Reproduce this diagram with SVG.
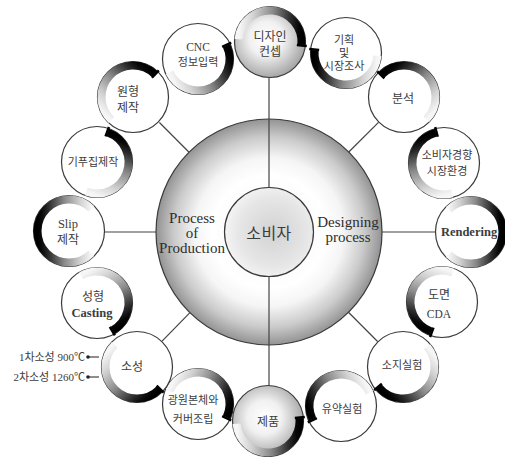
<svg xmlns="http://www.w3.org/2000/svg" width="505" height="457" viewBox="0 0 505 457">
<defs>
<linearGradient id="gLD" x1="0" y1="0" x2="1" y2="0">
<stop offset="0" stop-color="#f6f6f6"/><stop offset="0.2" stop-color="#d2d2d2"/><stop offset="0.5" stop-color="#8a8a8a"/><stop offset="0.8" stop-color="#2a2a2a"/><stop offset="0.93" stop-color="#080808"/><stop offset="1" stop-color="#000"/>
</linearGradient>
<linearGradient id="gDL" x1="1" y1="0" x2="0" y2="0">
<stop offset="0" stop-color="#f6f6f6"/><stop offset="0.2" stop-color="#d2d2d2"/><stop offset="0.5" stop-color="#8a8a8a"/><stop offset="0.8" stop-color="#2a2a2a"/><stop offset="0.93" stop-color="#080808"/><stop offset="1" stop-color="#000"/>
</linearGradient>
<radialGradient id="gBig" cx="0.5" cy="0.5" r="0.5">
<stop offset="0" stop-color="#f4f4f4"/><stop offset="0.5" stop-color="#ffffff"/><stop offset="0.66" stop-color="#f5f5f5"/><stop offset="0.84" stop-color="#cbcbcb"/><stop offset="1" stop-color="#939393"/>
</radialGradient>
<radialGradient id="gIn" cx="0.55" cy="0.5" r="0.55">
<stop offset="0" stop-color="#d2d2d2"/><stop offset="0.7" stop-color="#e6e6e6"/><stop offset="1" stop-color="#f4f4f4"/>
</radialGradient>
<radialGradient id="gNode" cx="0.45" cy="0.45" r="0.6">
<stop offset="0" stop-color="#ffffff"/><stop offset="0.4" stop-color="#f1f1f1"/><stop offset="1" stop-color="#9c9c9c"/>
</radialGradient>
</defs>
<style>
.nd{fill:#fff;stroke:#3a3a3a;stroke-width:1.2}
.ng{fill:url(#gNode);stroke:#3a3a3a;stroke-width:1.2}
.arc{fill:none;stroke-width:8}
.ld{stroke:url(#gLD)}
.dl{stroke:url(#gDL)}
.tk{fill:#000}
.con{stroke:#444;stroke-width:1.2;fill:none}
text{font-family:"Liberation Serif","Noto Sans CJK KR",serif;text-anchor:middle;dominant-baseline:central;fill:#3c3c3c}
.k{font-size:12px}
.k5{font-size:11px}
.e{font-size:11.5px}
.er{font-size:12.5px}
.eb{font-size:12.5px;font-weight:bold}
.c{font-size:15px;fill:#2e2e2e}
.side{font-size:11px;text-anchor:end}
</style>

<g id="outer-circle">
<circle cx="269" cy="232" r="113" fill="url(#gBig)" stroke="#3a3a3a" stroke-width="1.2"/>
<text class="c" x="192" y="218">Process</text>
<text class="c" x="192" y="233">of</text>
<text class="c" x="192" y="248">Production</text>
<text class="c" x="348" y="222">Designing</text>
<text class="c" x="348" y="237">process</text>
</g>

<g id="connectors">
<line class="con" x1="269" y1="78" x2="269" y2="188"/>
<line class="con" x1="269" y1="276" x2="269" y2="386"/>
<line class="con" x1="105" y1="232" x2="156" y2="232"/>
<line class="con" x1="382" y1="232" x2="436" y2="232"/>
<line class="con" x1="378.5" y1="122.4" x2="348.5" y2="152.2"/>
<line class="con" x1="159.4" y1="122.5" x2="188.8" y2="152"/>
<line class="con" x1="377.6" y1="341.5" x2="348.2" y2="312"/>
<line class="con" x1="162.1" y1="341.2" x2="189.7" y2="312.9"/>
<line class="con" x1="89" y1="357" x2="99" y2="357"/>
<line class="con" x1="89" y1="377" x2="99" y2="377"/>
<circle cx="88" cy="357" r="1.8" fill="#222"/>
<circle cx="88" cy="377" r="1.8" fill="#222"/>
</g>

<g id="consumer">
<circle cx="269" cy="232" r="44.5" fill="url(#gIn)" stroke="#3a3a3a" stroke-width="1.2"/>
<text x="269" y="233" style="font-size:16px;letter-spacing:0.5px">소비자</text>
</g>

<g id="n-design-concept" transform="translate(270,42)">
<circle class="ng" r="35.5"/>
<g transform="rotate(5)"><path class="arc ld" d="M-31.5 0A31.5 31.5 0 0 1 31.5 0"/><rect class="tk" x="27" y="-0.5" width="10" height="2.5"/></g>
<text class="k" x="0" y="-5">디자인</text>
<text class="k" x="0" y="10">컨셉</text>
</g>

<g id="n-planning" transform="translate(346,53)">
<circle class="nd" r="35.5"/>
<g transform="rotate(-175)"><path class="arc ld" d="M-31.5 0A31.5 31.5 0 0 1 31.5 0"/><rect class="tk" x="27" y="-0.5" width="10" height="2.5"/></g>
<text class="k5" x="-2" y="-13">기획</text>
<text class="k5" x="-2" y="0">및</text>
<text class="k5" x="-2" y="13">시장조사</text>
</g>

<g id="n-analysis" transform="translate(404,97)">
<circle class="nd" r="35.5"/>
<g transform="rotate(45)"><path class="arc dl" d="M-31.5 0A31.5 31.5 0 0 1 31.5 0"/><rect class="tk" x="-37" y="-0.5" width="10" height="2.5"/></g>
<text class="k" x="-1" y="2">분석</text>
</g>

<g id="n-consumer-trend" transform="translate(444,163)">
<circle class="nd" r="35.5"/>
<g transform="rotate(-105)"><path class="arc ld" d="M-31.5 0A31.5 31.5 0 0 1 31.5 0"/><rect class="tk" x="27" y="-0.5" width="10" height="2.5"/></g>
<text class="k5" x="3" y="-8">소비자경향</text>
<text class="k5" x="3" y="8">시장환경</text>
</g>

<g id="n-rendering" transform="translate(471,232)">
<circle class="nd" r="35.5"/>
<path class="arc ld" d="M-22.27 -22.27A31.5 31.5 0 1 1 -22.27 22.27"/>
<text class="eb" x="-2" y="0">Rendering</text>
</g>

<g id="n-drawing" transform="translate(442,302)">
<circle class="nd" r="35.5"/>
<g transform="rotate(-70)"><path class="arc dl" d="M-31.5 0A31.5 31.5 0 0 1 31.5 0"/><rect class="tk" x="-37" y="-0.5" width="10" height="2.5"/></g>
<text class="k" x="-3" y="-7">도면</text>
<text class="e" x="-3" y="12">CDA</text>
</g>

<g id="n-body-test" transform="translate(403,367)">
<circle class="nd" r="35.5"/>
<g transform="rotate(140)"><path class="arc ld" d="M-31.5 0A31.5 31.5 0 0 1 31.5 0"/><rect class="tk" x="27" y="-0.5" width="10" height="2.5"/></g>
<text class="k5" x="-1" y="-2">소지실험</text>
</g>

<g id="n-glaze-test" transform="translate(341,406)">
<circle class="nd" r="35.5"/>
<g transform="rotate(-25)"><path class="arc dl" d="M-31.5 0A31.5 31.5 0 0 1 31.5 0"/><rect class="tk" x="-37" y="-0.5" width="10" height="2.5"/></g>
<text class="k5" x="1" y="3">유약실험</text>
</g>

<g id="n-product" transform="translate(268,421)">
<circle class="ng" r="35.5"/>
<g transform="rotate(175)"><path class="arc dl" d="M-31.5 0A31.5 31.5 0 0 1 31.5 0"/><rect class="tk" x="-37" y="-0.5" width="10" height="2.5"/></g>
<text class="k" x="0" y="1">제품</text>
</g>

<g id="n-assembly" transform="translate(198,404)">
<circle class="nd" r="35.5"/>
<g transform="rotate(25)"><path class="arc ld" d="M-31.5 0A31.5 31.5 0 0 1 31.5 0"/><rect class="tk" x="27" y="-0.5" width="10" height="2.5"/></g>
<text class="k5" x="-5" y="-4">광원본체와</text>
<text class="k5" x="-5" y="15">커버조립</text>
</g>

<g id="n-firing" transform="translate(137,367)">
<circle class="nd" r="35.5"/>
<g transform="rotate(-135)"><path class="arc dl" d="M-31.5 0A31.5 31.5 0 0 1 31.5 0"/><rect class="tk" x="-37" y="-0.5" width="10" height="2.5"/></g>
<text class="k" x="-5" y="0">소성</text>
</g>

<g id="n-firing-notes">
<text class="side" x="85" y="357">1차소성 900℃</text>
<text class="side" x="85" y="377">2차소성 1260℃</text>
</g>

<g id="n-casting" transform="translate(97,303)">
<circle class="nd" r="35.5"/>
<g transform="rotate(60)"><path class="arc ld" d="M-31.5 0A31.5 31.5 0 0 1 31.5 0"/><rect class="tk" x="27" y="-0.5" width="10" height="2.5"/></g>
<text class="k" x="-4" y="-6">성형</text>
<text class="eb" x="-5" y="10">Casting</text>
</g>

<g id="n-slip" transform="translate(69,231)">
<circle class="nd" r="35.5"/>
<path class="arc ld" transform="rotate(180)" d="M-22.27 -22.27A31.5 31.5 0 1 1 -22.27 22.27"/>
<text class="er" x="-1" y="-7">Slip</text>
<text class="k" x="-1" y="9">제작</text>
</g>

<g id="n-mold" transform="translate(97,162)">
<circle class="nd" r="35.5"/>
<g transform="rotate(110)"><path class="arc dl" d="M-31.5 0A31.5 31.5 0 0 1 31.5 0"/><rect class="tk" x="-37" y="-0.5" width="10" height="2.5"/></g>
<text class="k5" x="-4" y="0">기푸집제작</text>
</g>

<g id="n-prototype" transform="translate(133,97)">
<circle class="nd" r="35.5"/>
<g transform="rotate(-47)"><path class="arc ld" d="M-31.5 0A31.5 31.5 0 0 1 31.5 0"/><rect class="tk" x="27" y="-0.5" width="10" height="2.5"/></g>
<text class="k" x="-5" y="-5">원형</text>
<text class="k" x="-5" y="11">제작</text>
</g>

<g id="n-cnc" transform="translate(198,59)">
<circle class="nd" r="35.5"/>
<g transform="rotate(155)"><path class="arc dl" d="M-31.5 0A31.5 31.5 0 0 1 31.5 0"/><rect class="tk" x="-37" y="-0.5" width="10" height="2.5"/></g>
<text class="e" x="0" y="-12">CNC</text>
<text class="k5" x="0" y="3">정보입력</text>
</g>
</svg>
